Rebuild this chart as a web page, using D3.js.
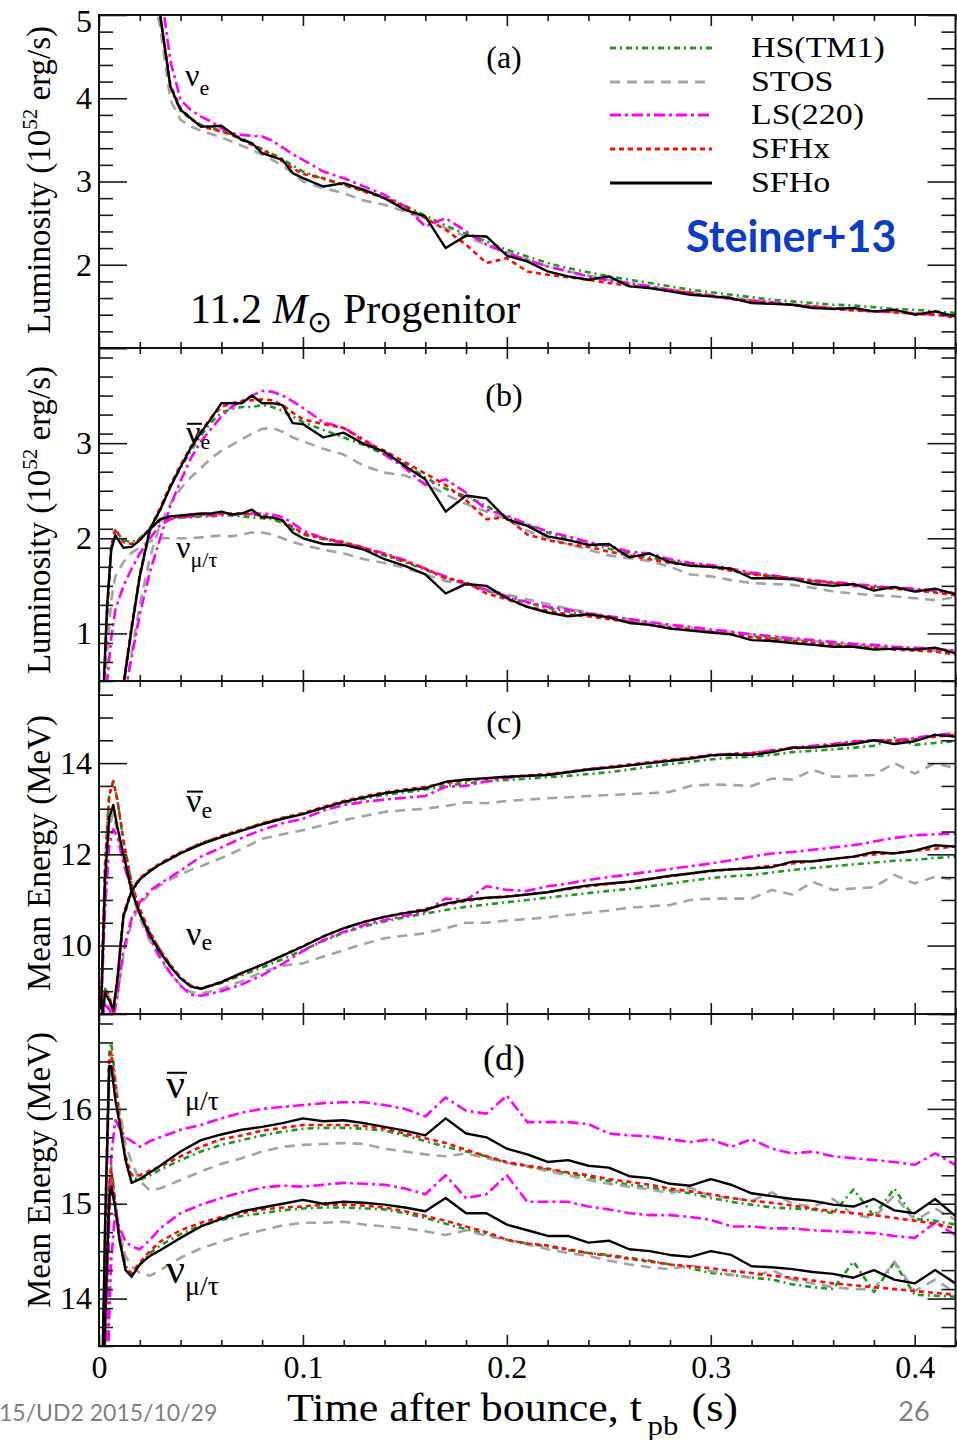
<!DOCTYPE html>
<html>
<head>
<meta charset="utf-8">
<script src="https://cdn.jsdelivr.net/npm/d3@7"></script>
<style>
  body { margin: 0; background: #fff; }
  svg { display: block; }
</style>
</head>
<body>
<svg id="chart" width="957" height="1440"></svg>
<script>
// ---- time grids (s after bounce) ----
const LATE = [0.10,0.11,0.12,0.13,0.14,0.15,0.16,0.17,0.18,0.19,0.20,0.21,0.22,0.23,0.24,0.25,0.26,0.27,0.28,0.29,0.30,0.31,0.32,0.33,0.34,0.35,0.36,0.37,0.38,0.39,0.40,0.41,0.42]
const tA = [0.02,0.025,0.03,0.035,0.04,0.045,0.05,0.055,0.06,0.065,0.07,0.075,0.08,0.085,0.09,0.095].concat(LATE)
const tB = [0.002,0.004,0.006,0.008,0.012,0.016,0.02,0.025,0.03,0.035,0.04,0.045,0.05,0.055,0.06,0.065,0.07,0.075,0.08,0.085,0.09,0.095].concat(LATE)
const tC = [0.001,0.003,0.005,0.007,0.009,0.012,0.016,0.02,0.025,0.03,0.035,0.04,0.045,0.05,0.06,0.07,0.08,0.09].concat(LATE)
const tD = [0.001,0.003,0.005,0.006,0.008,0.01,0.013,0.016,0.02,0.025,0.03,0.04,0.05,0.06,0.07,0.08,0.09].concat(LATE)

// ---- (a) nu_e luminosity, 10^52 erg/s ----
const aHS   = [7.0,5.6,5.0,4.12,3.85,3.75,3.68,3.64,3.61,3.57,3.52,3.45,3.39,3.33,3.27,3.19,
  3.12,3.03,2.96,2.89,2.81,2.71,2.59,2.47,2.37,2.28,2.18,2.10,2.02,1.96,1.91,1.86,1.82,1.78,1.74,1.70,1.67,1.64,1.61,1.58,1.56,1.54,1.52,1.51,1.49,1.47,1.46,1.44,1.42]
const aSTOS = [6.8,5.45,4.85,3.98,3.74,3.66,3.61,3.57,3.53,3.48,3.43,3.38,3.32,3.26,3.19,3.10,
  3.00,2.92,2.86,2.77,2.72,2.64,2.55,2.44,2.34,2.24,2.15,2.06,1.98,1.92,1.87,1.82,1.78,1.74,1.70,1.67,1.64,1.61,1.57,1.55,1.52,1.50,1.48,1.46,1.44,1.43,1.41,1.40,1.37]
const aLS   = [7.6,6.3,5.35,4.45,3.98,3.86,3.78,3.72,3.64,3.58,3.56,3.55,3.54,3.49,3.41,3.33,
  3.26,3.12,3.04,2.94,2.84,2.70,2.46,2.56,2.40,2.24,2.14,2.06,1.98,1.92,1.86,1.81,1.78,1.74,1.70,1.66,1.63,1.59,1.57,1.55,1.52,1.50,1.48,1.46,1.44,1.43,1.42,1.40,1.39]
const aSFHx = [7.0,5.6,5.0,4.16,3.88,3.76,3.66,3.63,3.60,3.56,3.50,3.44,3.38,3.32,3.24,3.16,
  3.09,3.04,2.96,2.88,2.80,2.70,2.56,2.42,2.24,2.02,2.08,1.92,1.88,1.85,1.82,1.78,1.75,1.72,1.69,1.66,1.62,1.59,1.56,1.54,1.52,1.50,1.47,1.45,1.44,1.43,1.41,1.40,1.37]
const aSFHo = [7.0,5.6,5.0,4.14,3.86,3.76,3.66,3.66,3.67,3.58,3.50,3.46,3.34,3.30,3.26,3.10,
  3.04,2.94,2.98,2.90,2.80,2.66,2.58,2.20,2.35,2.34,2.11,2.04,1.92,1.86,1.82,1.86,1.74,1.72,1.68,1.64,1.62,1.60,1.54,1.53,1.52,1.48,1.47,1.48,1.44,1.46,1.40,1.44,1.38]

// ---- (b) anti-nu_e and nu_mu/tau luminosity ----
const bBarHS   = [-0.6,-0.4,-0.2,0.0,0.45,1.05,1.6,2.08,2.3,2.54,2.74,2.92,3.08,3.22,3.32,3.36,3.38,3.38,3.40,3.38,3.34,3.28,
  3.22,3.14,3.06,2.98,2.88,2.78,2.64,2.52,2.44,2.34,2.22,2.14,2.06,1.99,1.94,1.89,1.84,1.80,1.76,1.73,1.70,1.66,1.63,1.60,1.58,1.55,1.53,1.51,1.49,1.48,1.46,1.45,1.43]
const bBarSTOS = [-0.8,-0.6,-0.4,-0.2,0.2,0.8,1.3,1.8,2.15,2.36,2.52,2.64,2.74,2.84,2.92,2.98,3.04,3.10,3.15,3.16,3.12,3.06,
  3.02,2.94,2.88,2.76,2.69,2.66,2.58,2.46,2.36,2.28,2.20,2.08,2.00,1.94,1.88,1.82,1.79,1.76,1.70,1.62,1.60,1.56,1.53,1.52,1.51,1.48,1.44,1.42,1.40,1.39,1.37,1.35,1.38]
const bBarLS   = [-1.0,-0.8,-0.6,-0.4,0.3,0.75,1.2,1.65,2.0,2.34,2.6,2.84,3.02,3.15,3.28,3.38,3.44,3.50,3.55,3.54,3.50,3.44,
  3.37,3.22,3.16,3.04,2.88,2.74,2.56,2.62,2.48,2.30,2.24,2.15,2.07,2.02,1.96,1.92,1.86,1.84,1.78,1.74,1.72,1.68,1.64,1.61,1.58,1.56,1.54,1.52,1.50,1.48,1.47,1.45,1.42]
const bBarSFHx = [-0.6,-0.4,-0.2,0.0,0.48,1.08,1.62,2.1,2.32,2.56,2.77,2.96,3.12,3.27,3.38,3.42,3.44,3.45,3.46,3.45,3.40,3.32,
  3.25,3.20,3.16,3.02,2.92,2.80,2.68,2.56,2.40,2.20,2.22,2.04,1.98,1.94,1.91,1.86,1.82,1.78,1.74,1.72,1.70,1.66,1.62,1.60,1.58,1.55,1.53,1.50,1.48,1.47,1.45,1.43,1.40]
const bBarSFHo = [-0.6,-0.4,-0.2,0.0,0.45,1.05,1.6,2.1,2.3,2.54,2.75,2.95,3.11,3.26,3.42,3.42,3.42,3.50,3.42,3.42,3.40,3.21,
  3.20,3.06,3.11,2.99,2.91,2.76,2.62,2.28,2.45,2.42,2.20,2.13,2.02,1.98,1.93,1.94,1.80,1.84,1.75,1.71,1.70,1.68,1.58,1.58,1.57,1.52,1.50,1.52,1.45,1.49,1.44,1.47,1.41]

const bMuHS   = [0.2,1.2,1.9,2.08,1.98,1.96,2.0,2.1,2.18,2.21,2.22,2.22,2.23,2.23,2.24,2.24,2.23,2.22,2.21,2.20,2.16,2.10,
  2.04,1.99,1.95,1.89,1.82,1.75,1.67,1.58,1.52,1.45,1.38,1.32,1.27,1.23,1.19,1.16,1.13,1.10,1.07,1.05,1.02,1.00,0.97,0.95,0.93,0.91,0.89,0.88,0.86,0.85,0.84,0.83,0.81]
const bMuSTOS = [0.1,0.8,1.35,1.6,1.75,1.85,1.9,1.97,2.0,2.0,2.0,2.0,2.01,2.02,2.03,2.02,2.04,2.06,2.06,2.04,2.0,1.96,
  1.93,1.88,1.84,1.78,1.74,1.69,1.62,1.55,1.52,1.46,1.41,1.36,1.31,1.26,1.22,1.18,1.15,1.11,1.08,1.05,1.02,1.01,0.99,0.97,0.94,0.92,0.90,0.88,0.86,0.85,0.83,0.82,0.81]
const bMuLS   = [0.0,0.5,0.95,1.25,1.5,1.68,1.84,2.0,2.14,2.2,2.22,2.23,2.24,2.24,2.25,2.25,2.25,2.26,2.26,2.25,2.22,2.16,
  2.08,2.0,1.95,1.90,1.84,1.77,1.68,1.60,1.52,1.46,1.39,1.33,1.28,1.25,1.21,1.18,1.15,1.12,1.09,1.07,1.04,1.02,0.99,0.97,0.95,0.93,0.91,0.89,0.88,0.86,0.85,0.84,0.82]
const bMuSFHx = [0.25,1.25,1.92,2.1,1.96,1.94,1.99,2.1,2.2,2.22,2.23,2.24,2.25,2.25,2.26,2.26,2.26,2.25,2.24,2.22,2.18,2.12,
  2.05,2.0,1.96,1.90,1.83,1.76,1.68,1.58,1.54,1.42,1.36,1.28,1.24,1.20,1.18,1.15,1.12,1.09,1.06,1.04,1.01,0.99,0.96,0.94,0.92,0.90,0.88,0.86,0.85,0.83,0.82,0.81,0.78]
const bMuSFHo = [0.3,1.3,1.88,2.03,1.90,1.91,1.98,2.10,2.20,2.23,2.24,2.25,2.26,2.26,2.28,2.25,2.26,2.30,2.22,2.22,2.19,2.06,
  2.00,1.94,1.93,1.88,1.78,1.71,1.62,1.42,1.52,1.50,1.37,1.28,1.22,1.18,1.20,1.17,1.11,1.09,1.05,1.03,1.01,0.99,0.93,0.92,0.90,0.88,0.86,0.86,0.83,0.84,0.83,0.85,0.79]

// ---- (c) anti-nu_e and nu_e mean energy, MeV ----
const cBarHS   = [8.3,9.05,8.85,8.55,9.2,10.6,11.18,11.45,11.64,11.8,11.92,12.04,12.14,12.24,12.4,12.54,12.67,12.79,
  12.9,13.02,13.13,13.22,13.3,13.36,13.42,13.5,13.56,13.6,13.63,13.66,13.69,13.72,13.76,13.8,13.86,13.92,13.98,14.03,14.08,14.12,14.14,14.18,14.24,14.27,14.3,14.34,14.38,14.55,14.4,14.44,14.48]
const cBarSTOS = [8.2,8.8,8.7,8.4,8.9,9.8,10.5,10.9,11.15,11.32,11.45,11.56,11.66,11.74,11.92,12.12,12.34,12.44,
  12.53,12.64,12.75,12.84,12.93,12.97,13.0,13.06,13.14,13.12,13.17,13.20,13.23,13.25,13.28,13.30,13.32,13.34,13.37,13.50,13.53,13.52,13.50,13.66,13.64,13.85,13.70,13.72,13.74,14.0,13.77,14.0,13.88]
const cBarLS   = [8.2,8.7,8.6,8.4,8.9,9.9,10.6,10.95,11.2,11.36,11.5,11.64,11.8,11.95,12.15,12.36,12.54,12.68,
  12.78,12.96,13.08,13.15,13.20,13.24,13.28,13.48,13.5,13.6,13.68,13.72,13.75,13.80,13.86,13.90,13.95,14.0,14.06,14.10,14.16,14.2,14.22,14.28,14.34,14.38,14.42,14.48,14.5,14.5,14.55,14.62,14.65]
const cBarSFHx = [8.3,9.05,8.9,8.55,9.3,10.7,11.22,11.48,11.66,11.8,11.93,12.04,12.14,12.24,12.4,12.54,12.68,12.8,
  12.9,13.04,13.17,13.27,13.36,13.42,13.48,13.56,13.62,13.66,13.70,13.73,13.76,13.81,13.87,13.92,13.97,14.02,14.07,14.12,14.18,14.20,14.22,14.27,14.32,14.36,14.40,14.45,14.50,14.48,14.52,14.58,14.62]
const cBarSFHo = [8.3,8.95,8.8,8.6,9.25,10.65,11.2,11.45,11.63,11.78,11.9,12.02,12.12,12.22,12.38,12.52,12.66,12.78,
  12.88,13.02,13.15,13.25,13.34,13.40,13.45,13.59,13.64,13.67,13.70,13.72,13.74,13.80,13.86,13.90,13.95,14.0,14.05,14.10,14.17,14.19,14.18,14.24,14.34,14.34,14.38,14.42,14.50,14.42,14.48,14.62,14.58]

const cNuHS   = [8.6,11.8,13.3,13.6,13.2,12.3,11.35,10.78,10.28,9.9,9.58,9.3,9.12,9.06,9.18,9.35,9.52,9.7,
  9.9,10.1,10.28,10.42,10.53,10.62,10.7,10.78,10.85,10.9,10.95,11.0,11.05,11.1,11.15,11.2,11.24,11.3,11.36,11.42,11.48,11.52,11.55,11.6,11.66,11.7,11.74,11.78,11.82,11.86,11.88,11.92,11.95]
const cNuSTOS = [8.6,11.3,12.6,12.9,12.5,11.9,11.15,10.6,10.1,9.7,9.38,9.14,8.98,8.95,9.05,9.22,9.42,9.56,
  9.61,9.76,9.9,10.04,10.16,10.22,10.27,10.38,10.5,10.5,10.55,10.58,10.62,10.67,10.72,10.77,10.83,10.86,10.89,11.0,11.03,11.03,11.03,11.22,11.12,11.40,11.22,11.25,11.28,11.55,11.36,11.51,11.44]
const cNuLS   = [8.6,10.8,12.2,12.55,12.4,11.8,11.2,10.7,10.15,9.75,9.4,9.12,8.92,8.9,9.0,9.15,9.35,9.6,
  9.88,10.12,10.3,10.45,10.56,10.65,10.75,11.03,11.0,11.3,11.22,11.2,11.3,11.36,11.44,11.5,11.56,11.62,11.68,11.74,11.8,11.87,11.95,12.02,12.05,12.1,12.15,12.2,12.28,12.36,12.42,12.44,12.46]
const cNuSFHx = [8.6,11.8,13.3,13.6,13.2,12.3,11.35,10.8,10.28,9.9,9.58,9.3,9.12,9.06,9.2,9.38,9.58,9.78,
  9.99,10.2,10.38,10.52,10.63,10.72,10.8,10.9,10.98,11.04,11.08,11.12,11.17,11.24,11.3,11.35,11.4,11.46,11.52,11.58,11.63,11.67,11.7,11.75,11.8,11.85,11.9,11.95,12.0,12.03,12.08,12.12,12.18]
const cNuSFHo = [8.6,11.5,12.8,13.08,12.6,12.0,11.2,10.7,10.22,9.85,9.54,9.28,9.1,9.05,9.2,9.4,9.58,9.78,
  9.98,10.2,10.38,10.52,10.63,10.71,10.78,10.92,11.0,11.05,11.07,11.12,11.17,11.25,11.32,11.36,11.40,11.46,11.53,11.58,11.64,11.67,11.69,11.72,11.84,11.85,11.9,11.95,12.05,12.02,12.08,12.2,12.17]

// ---- (d) anti-nu_mu/tau and nu_mu/tau mean energy, MeV ----
const dBarHS   = [12.0,14.6,16.6,16.7,16.3,15.95,15.5,15.28,15.25,15.3,15.36,15.46,15.55,15.62,15.67,15.72,15.76,
  15.79,15.8,15.8,15.79,15.77,15.72,15.66,15.6,15.55,15.5,15.43,15.39,15.36,15.32,15.28,15.24,15.20,15.17,15.14,15.11,15.06,15.02,14.99,14.96,14.95,14.94,14.9,15.15,14.87,15.16,14.84,14.82,14.78]
const dBarSTOS = [12.2,14.4,16.3,16.55,16.3,16.0,15.62,15.44,15.24,15.14,15.16,15.25,15.34,15.42,15.48,15.55,15.6,
  15.62,15.63,15.64,15.63,15.58,15.55,15.52,15.5,15.53,15.48,15.43,15.40,15.34,15.3,15.25,15.21,15.18,15.15,15.11,15.17,15.08,15.06,15.03,15.12,15.0,14.97,15.05,14.88,14.85,15.09,14.82,14.95,14.83]
const dBarLS   = [11.0,12.5,14.8,15.5,15.88,15.8,15.7,15.66,15.6,15.66,15.7,15.78,15.83,15.9,15.96,16.0,16.02,
  16.04,16.06,16.07,16.07,16.04,16.0,15.92,16.12,15.98,15.95,16.14,15.86,15.86,15.86,15.84,15.74,15.72,15.71,15.68,15.65,15.68,15.6,15.68,15.58,15.53,15.55,15.5,15.48,15.46,15.44,15.41,15.53,15.41]
const dBarSFHx = [12.2,14.7,16.5,16.6,16.25,15.9,15.5,15.3,15.3,15.35,15.39,15.5,15.6,15.68,15.72,15.77,15.8,
  15.83,15.83,15.83,15.82,15.79,15.74,15.69,15.64,15.57,15.5,15.44,15.4,15.37,15.33,15.3,15.26,15.23,15.2,15.16,15.13,15.1,15.06,15.03,15.01,14.98,14.95,14.92,14.9,14.88,14.85,14.82,14.79,14.74]
const dBarSFHo = [12.5,14.8,16.45,16.45,16.1,15.85,15.46,15.22,15.26,15.33,15.40,15.55,15.67,15.73,15.78,15.81,15.85,
  15.90,15.87,15.88,15.85,15.81,15.77,15.72,15.9,15.74,15.7,15.58,15.52,15.44,15.46,15.40,15.38,15.29,15.27,15.21,15.19,15.26,15.2,15.11,15.08,15.05,15.03,14.99,14.97,15.05,14.93,14.90,15.05,14.87]

const dMuHS   = [11.8,13.6,15.2,15.39,15.0,14.7,14.35,14.25,14.35,14.48,14.56,14.68,14.77,14.83,14.87,14.9,14.93,
  14.95,14.96,14.96,14.95,14.94,14.9,14.85,14.79,14.73,14.68,14.62,14.58,14.55,14.51,14.48,14.46,14.43,14.4,14.36,14.32,14.27,14.25,14.22,14.2,14.15,14.12,14.1,14.39,14.07,14.38,14.04,14.03,14.02]
const dMuSTOS = [11.8,13.5,15.0,15.29,15.0,14.7,14.45,14.34,14.27,14.24,14.3,14.43,14.53,14.6,14.67,14.72,14.77,
  14.8,14.8,14.81,14.78,14.76,14.74,14.71,14.67,14.72,14.66,14.62,14.57,14.52,14.48,14.45,14.4,14.36,14.33,14.31,14.35,14.29,14.25,14.22,14.3,14.2,14.16,14.12,14.1,14.1,14.39,14.08,14.2,14.06]
const dMuLS   = [11.0,12.2,13.8,14.4,14.94,14.75,14.6,14.55,14.52,14.62,14.74,14.9,14.99,15.06,15.12,15.17,15.19,
  15.18,15.2,15.22,15.21,15.2,15.16,15.1,15.3,15.06,15.1,15.3,15.02,15.02,15.02,14.97,14.94,14.9,14.88,14.88,14.86,14.83,14.76,14.76,14.74,14.74,14.72,14.71,14.7,14.69,14.66,14.64,14.8,14.67]
const dMuSFHx = [11.9,13.7,15.2,15.36,15.0,14.65,14.32,14.27,14.38,14.5,14.6,14.72,14.8,14.86,14.9,14.94,14.96,
  14.97,14.99,14.99,14.98,14.96,14.92,14.87,14.82,14.76,14.7,14.62,14.58,14.56,14.52,14.48,14.45,14.42,14.39,14.36,14.34,14.32,14.29,14.27,14.24,14.22,14.19,14.16,14.14,14.12,14.1,14.08,14.06,14.04]
const dMuSFHo = [12.0,13.8,15.05,15.18,14.95,14.62,14.3,14.23,14.36,14.45,14.51,14.64,14.76,14.84,14.92,14.96,15.0,
  15.04,15.0,15.02,15.01,14.99,14.96,14.92,15.06,14.9,14.9,14.78,14.72,14.66,14.66,14.59,14.61,14.52,14.5,14.46,14.44,14.5,14.46,14.34,14.33,14.31,14.28,14.26,14.22,14.3,14.2,14.16,14.3,14.16]

// ---- ticks and labels ----
const EOS = ['HS(TM1)', 'STOS', 'LS(220)', 'SFHx', 'SFHo']
const xMajor = [0, 0.1, 0.2, 0.3, 0.4]
const xMinor = [0.02,0.04,0.06,0.08,0.12,0.14,0.16,0.18,0.22,0.24,0.26,0.28,0.32,0.34,0.36,0.38,0.42]
const yLabA = [2, 3, 4, 5]
const yLabB = [1, 2, 3]
const yLabC = [10, 12, 14]
const yLabD = [14, 15, 16]

const eosStyle = {
  'HS(TM1)': { color: '#1c9a1c', dash: '6,4,2,4' },
  'STOS': { color: '#a3a3a3', dash: '10,7' },
  'LS(220)': { color: '#ff00ff', dash: '11,4,3,4' },
  'SFHx': { color: '#ff0a0a', dash: '5,4' },
  'SFHo': { color: '#000000', dash: null },
}

const panels = [
  { id: 'a', top: 15, bottom: 348, domain: [1, 5], labels: yLabA, major: [1, 2, 3, 4, 5], minor: 0.2, t: tA,
    species: [[aHS, aSTOS, aLS, aSFHx, aSFHo]], title: 'lum', titleY: 180 },
  { id: 'b', top: 348, bottom: 681, domain: [0.5, 4], labels: yLabB, major: [1, 2, 3, 4], minor: 0.2, t: tB,
    species: [[bBarHS, bBarSTOS, bBarLS, bBarSFHx, bBarSFHo], [bMuHS, bMuSTOS, bMuLS, bMuSFHx, bMuSFHo]], title: 'lum', titleY: 520 },
  { id: 'c', top: 681, bottom: 1014, domain: [8.5, 15.8], labels: yLabC, major: [10, 12, 14], minor: 0.5, t: tC,
    species: [[cBarHS, cBarSTOS, cBarLS, cBarSFHx, cBarSFHo], [cNuHS, cNuSTOS, cNuLS, cNuSFHx, cNuSFHo]], title: 'en', titleY: 853 },
  { id: 'd', top: 1014, bottom: 1346, domain: [13.5, 17], labels: yLabD, major: [14, 15, 16, 17], minor: 0.2, t: tD,
    species: [[dBarHS, dBarSTOS, dBarLS, dBarSFHx, dBarSFHo], [dMuHS, dMuSTOS, dMuLS, dMuSFHx, dMuSFHo]], title: 'en', titleY: 1170 },
]

// sanity check on array lengths
panels.forEach((p) => p.species.forEach((grp) => grp.forEach((arr, i) => {
  if (arr.length !== p.t.length) throw new Error(`panel ${p.id} ${EOS[i]} has ${arr.length} values, expected ${p.t.length}`)
})))

const SERIF = "'Liberation Serif', 'Times New Roman', serif"
const SANS = "Lato, 'Open Sans', sans-serif"
const X0 = 99
const X1 = 955.5
const x = d3.scaleLinear().domain([0, 0.42]).range([X0, X1])

const svg = d3.select('#chart')
svg.append('rect').attr('width', 957).attr('height', 1440).attr('fill', '#fff')
const defs = svg.append('defs')

function styleAxis(g) {
  g.select('.domain').remove()
  g.selectAll('line').attr('stroke', '#1a1a1a').attr('stroke-width', 1.6)
  g.attr('font-family', SERIF).attr('font-size', 32).attr('fill', '#000')
  g.selectAll('text').attr('fill', '#000')
}

panels.forEach((p) => {
  const y = d3.scaleLinear().domain(p.domain).range([p.bottom, p.top])
  const g = svg.append('g').attr('class', 'panel-' + p.id)

  defs.append('clipPath').attr('id', 'clip-' + p.id)
    .append('rect').attr('x', X0).attr('y', p.top).attr('width', X1 - X0).attr('height', p.bottom - p.top)

  const minorVals = d3.range(p.domain[0], p.domain[1] + 1e-9, p.minor)
    .filter((v) => !p.major.some((m) => Math.abs(m - v) < 1e-6))

  // curves
  const line = d3.line().x((d) => x(d[0])).y((d) => y(d[1]))
  const cg = g.append('g').attr('clip-path', `url(#clip-${p.id})`)
  EOS.forEach((name, i) => {
    p.species.forEach((grp) => {
      cg.append('path')
        .datum(d3.zip(p.t, grp[i]))
        .attr('d', line)
        .attr('fill', 'none')
        .attr('stroke', eosStyle[name].color)
        .attr('stroke-width', name === 'SFHo' ? 2.4 : 2.6)
        .attr('stroke-dasharray', eosStyle[name].dash)
        .attr('stroke-linejoin', 'round')
    })
  })

  // y ticks, left (labelled) and right
  g.append('g').attr('transform', `translate(${X0},0)`)
    .call(d3.axisLeft(y).tickValues(minorVals).tickSize(-14).tickSizeOuter(0).tickFormat(''))
    .call(styleAxis)
  const yl = g.append('g').attr('transform', `translate(${X0},0)`)
    .call(d3.axisLeft(y).tickValues(p.major).tickSize(-28).tickSizeOuter(0).tickPadding(7)
      .tickFormat((d) => (p.labels.includes(d) ? d : '')))
    .call(styleAxis)
  // keep the label on the top edge inside the picture
  yl.selectAll('text').filter((d) => y(d) < 20).attr('dy', '0.5em')
  g.append('g').attr('transform', `translate(${X1},0)`)
    .call(d3.axisRight(y).tickValues(minorVals).tickSize(-14).tickSizeOuter(0).tickFormat(''))
    .call(styleAxis)
  g.append('g').attr('transform', `translate(${X1},0)`)
    .call(d3.axisRight(y).tickValues(p.major).tickSize(-28).tickSizeOuter(0).tickFormat(''))
    .call(styleAxis)

  // x ticks, top and bottom of every panel
  const last = p.id === 'd'
  g.append('g').attr('transform', `translate(0,${p.top})`)
    .call(d3.axisTop(x).tickValues(xMinor).tickSize(-6).tickSizeOuter(0).tickFormat(''))
    .call(styleAxis)
  g.append('g').attr('transform', `translate(0,${p.top})`)
    .call(d3.axisTop(x).tickValues(xMajor).tickSize(-11).tickSizeOuter(0).tickFormat(''))
    .call(styleAxis)
  g.append('g').attr('transform', `translate(0,${p.bottom})`)
    .call(d3.axisBottom(x).tickValues(xMinor).tickSize(-6).tickSizeOuter(0).tickFormat(''))
    .call(styleAxis)
  g.append('g').attr('transform', `translate(0,${p.bottom})`)
    .call(d3.axisBottom(x).tickValues(xMajor).tickSize(-11).tickSizeOuter(0).tickPadding(9)
      .tickFormat((d) => (last ? (d === 0 ? '0' : d3.format('.1f')(d)) : '')))
    .call(styleAxis)

  // frame
  g.append('rect')
    .attr('x', X0).attr('y', p.top).attr('width', X1 - X0).attr('height', p.bottom - p.top)
    .attr('fill', 'none').attr('stroke', '#111').attr('stroke-width', 2)

  // y title
  const tt = g.append('text')
    .attr('transform', `translate(50,${p.titleY}) rotate(-90)`)
    .attr('text-anchor', 'middle')
    .attr('font-family', SERIF).attr('font-size', 33).attr('fill', '#000')
  if (p.title === 'lum') {
    tt.append('tspan').text('Luminosity (10')
    tt.append('tspan').attr('dy', -13).attr('font-size', 21).text('52')
    tt.append('tspan').attr('dy', 13).text(' erg/s)')
  } else {
    tt.text('Mean Energy (MeV)')
  }
})

// panel letters
const panelTags = [
  { text: '(a)', y: 68, size: 32 },
  { text: '(b)', y: 406, size: 32 },
  { text: '(c)', y: 733, size: 32 },
  { text: '(d)', y: 1070, size: 36 },
]
svg.selectAll('text.tag').data(panelTags).join('text')
  .attr('class', 'tag')
  .attr('x', 504).attr('y', (d) => d.y)
  .attr('text-anchor', 'middle')
  .attr('font-family', SERIF).attr('font-size', (d) => d.size)
  .text((d) => d.text)

// neutrino species labels
const nuLabels = [
  { x: 185, y: 86, size: 32, sub: 'e', subSize: 22, subDy: 9, bar: false },
  { x: 186, y: 443, size: 32, sub: 'e', subSize: 22, subDy: 6, bar: true },
  { x: 176, y: 558, size: 32, sub: 'μ/τ', subSize: 22, subDy: 9, bar: false },
  { x: 186, y: 812, size: 34, sub: 'e', subSize: 24, subDy: 6, bar: true },
  { x: 186, y: 945, size: 34, sub: 'e', subSize: 24, subDy: 5, bar: false },
  { x: 166, y: 1098, size: 42, sub: 'μ/τ', subSize: 28, subDy: 12, bar: true },
  { x: 166, y: 1283, size: 42, sub: 'μ/τ', subSize: 28, subDy: 12, bar: false },
]
nuLabels.forEach((d) => {
  const t = svg.append('text')
    .attr('x', d.x).attr('y', d.y)
    .attr('font-family', SERIF).attr('font-size', d.size)
  t.append('tspan').text('ν')
  t.append('tspan').attr('dy', d.subDy).attr('font-size', d.subSize).text(d.sub)
  if (d.bar) {
    svg.append('line')
      .attr('x1', d.x + 1).attr('x2', d.x + d.size * 0.5)
      .attr('y1', d.y - d.size * 0.6).attr('y2', d.y - d.size * 0.6)
      .attr('stroke', '#000').attr('stroke-width', 2)
  }
})

// progenitor note
const prog = svg.append('text')
  .attr('x', 190).attr('y', 323)
  .attr('font-family', SERIF).attr('font-size', 42)
prog.append('tspan').text('11.2 ')
prog.append('tspan').attr('font-style', 'italic').text('M')
prog.append('tspan').attr('dy', 9).attr('font-size', 30).text('⊙')
prog.append('tspan').attr('dy', -9).text(' Progenitor')

// legend
const legendY = [48, 82, 115, 149, 183]
const legend = svg.append('g').attr('class', 'legend')
EOS.forEach((name, i) => {
  legend.append('line')
    .attr('x1', 610).attr('x2', 712)
    .attr('y1', legendY[i]).attr('y2', legendY[i])
    .attr('stroke', eosStyle[name].color)
    .attr('stroke-width', name === 'SFHo' ? 3 : 2.8)
    .attr('stroke-dasharray', eosStyle[name].dash)
  legend.append('text')
    .attr('transform', `translate(751,${legendY[i] + 9}) scale(1.17,1)`)
    .attr('font-family', SERIF).attr('font-size', 29)
    .text(name)
})

svg.append('text')
  .attr('x', 686).attr('y', 252)
  .attr('font-family', SANS).attr('font-weight', 700).attr('font-size', 43)
  .attr('fill', '#0a3bcc')
  .text('Steiner+13')

// x title
const xt = svg.append('text')
  .attr('transform', 'translate(287,1421) scale(1.1,1)')
  .attr('font-family', SERIF).attr('font-size', 40)
xt.append('tspan').text('Time after bounce, t')
xt.append('tspan').attr('dx', 5).attr('dy', 14).attr('font-size', 28).text('pb')
xt.append('tspan').attr('dx', 12).attr('dy', -14).text('(s)')

// slide footer
svg.append('text')
  .attr('x', -1).attr('y', 1421)
  .attr('font-family', SANS).attr('font-size', 23).attr('fill', '#7f7f7f')
  .text('15/UD2 2015/10/29')
svg.append('text')
  .attr('x', 914).attr('y', 1421).attr('text-anchor', 'middle')
  .attr('font-family', SANS).attr('font-size', 27).attr('fill', '#7f7f7f')
  .text('26')
</script>
</body>
</html>
